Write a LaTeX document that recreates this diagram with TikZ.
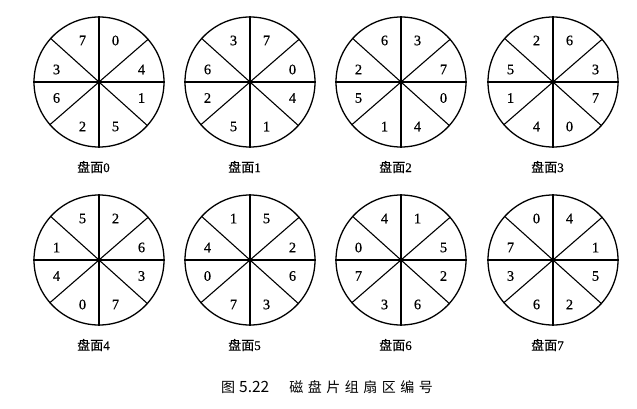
\documentclass[tikz,border=0pt]{standalone}
\usepackage{fontspec}
\setmainfont{Liberation Serif}
\newfontfamily\numfont[FakeBold=0.5]{Liberation Serif}
\newfontfamily\cjk[FakeBold=0.6]{Noto Sans CJK SC}
\newfontfamily\cjkcap{Noto Sans CJK SC}
\begin{document}
\begin{tikzpicture}[x=1pt,y=-1pt,
  disk/.style={circle,draw,line width=1.3pt,minimum size=130pt,inner sep=0pt},
  spoke/.style={line width=1.1pt},
  num/.style={inner sep=0pt,font=\numfont\fontsize{14.5}{14.5}\selectfont},
  lab/.style={inner sep=0pt,font=\numfont\fontsize{13}{13}\selectfont},
  captext/.style={inner sep=0pt,font=\cjkcap\fontsize{14}{14}\selectfont}]
\useasboundingbox (0,0) rectangle (637,409);
\foreach \i/\cx/\cy/\a/\b/\c/\d/\e/\f/\g/\h in {
  0/99/82/0/4/1/5/2/6/3/7,
  1/250/82/7/0/4/1/5/2/6/3,
  2/401/82/3/7/0/4/1/5/2/6,
  3/553/82/6/3/7/0/4/1/5/2,
  4/99/260/2/6/3/7/0/4/1/5,
  5/250/260/5/2/6/3/7/0/4/1,
  6/401/260/1/5/2/6/3/7/0/4,
  7/553/260/4/1/5/2/6/3/7/0}{
  \node[disk] (d\i) at (\cx,\cy) {};
  \draw[spoke] (d\i.90) -- (d\i.270);
  \draw[spoke] (d\i.0) -- (d\i.180);
  \draw[spoke] (d\i.41.5) -- (d\i.221.5);
  \draw[spoke] (d\i.138.5) -- (d\i.318.5);
  \begin{scope}[shift={(\cx,\cy)}]
    \node[num] (n\i-1) at (16.5,-41.5) {\a};
    \node[num] (n\i-2) at (42.5,-12.5) {\b};
    \node[num] (n\i-3) at (42.5,16) {\c};
    \node[num] (n\i-4) at (16.5,44.5) {\d};
    \node[num] (n\i-5) at (-16.5,44.5) {\e};
    \node[num] (n\i-6) at (-42.5,16) {\f};
    \node[num] (n\i-7) at (-42.5,-12.5) {\g};
    \node[num] (n\i-8) at (-16.5,-41.5) {\h};
    \node[lab] (l\i) at (-5.5,85) {{\cjk 盘面}\i};
  \end{scope}
}
\node[captext] (caption) at (327,387) {图\hspace{4pt}{\fontsize{15.5}{15.5}\selectfont 5.22}\hspace{20pt}磁\hspace{4.5pt}盘\hspace{4.5pt}片\hspace{4.5pt}组\hspace{4.5pt}扇\hspace{4.5pt}区\hspace{4.5pt}编\hspace{4.5pt}号};
\end{tikzpicture}
\end{document}
